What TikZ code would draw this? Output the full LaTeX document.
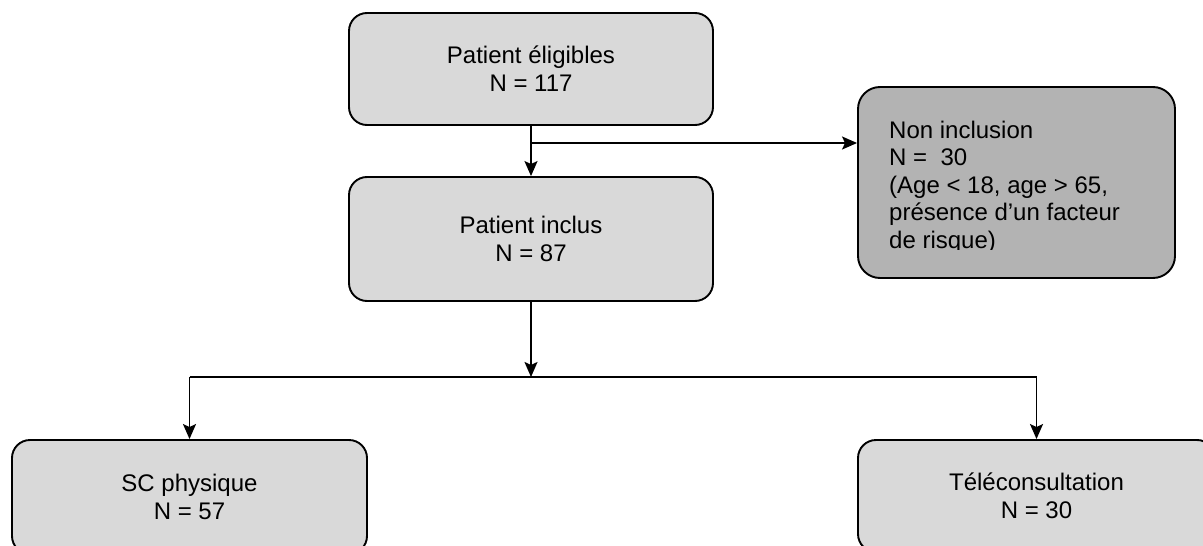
\documentclass[tikz,border=0pt]{standalone}
\usepackage{fontspec}
\setmainfont{Liberation Sans}
\usetikzlibrary{arrows.meta}
\definecolor{lightbox}{HTML}{D9D9D9}
\definecolor{darkbox}{HTML}{B3B3B3}
\begin{document}
\begin{tikzpicture}[x=1pt,y=-1pt,
  font=\fontsize{24}{28}\selectfont,
  box/.style={draw=black, line width=1.9pt, rounded corners=18pt, fill=lightbox, align=center, inner sep=0pt},
  conn/.style={line width=1.9pt, -{Stealth[length=15pt,width=13pt,inset=3pt]}},
  plainline/.style={line width=1.9pt}]
\clip (0,0) rectangle (1203,546);
\fill[white] (0,0) rectangle (1203,546);
% boxes
\node[box, minimum width=364pt, minimum height=112pt] (b1) at (531,69) {Patient éligibles\\N = 117};
\node[box, minimum width=364pt, minimum height=124pt] (b2) at (531,239) {Patient inclus\\N = 87};
\node[box, fill=darkbox, rounded corners=22pt, minimum width=317pt, minimum height=191pt] (b3) at (1016.5,182.5) {};
\begin{scope}
  \clip (858,87) rectangle (1175,249);
  \node[anchor=west, align=left, inner sep=0pt, font=\fontsize{24}{27.5}\selectfont] (t3) at (889,187)
    {Non inclusion\\N = \ 30\\(Age < 18, age > 65,\\présence d’un facteur\\de risque)};
\end{scope}
\node[box, minimum width=355pt, minimum height=114pt] (b4) at (189.5,497) {SC physique\\N = 57};
\node[box, minimum width=357pt, minimum height=112pt] (b5) at (1036.5,496) {Téléconsultation\\N = 30};
% junctions
\coordinate (j1) at (531,143);
\coordinate (j2) at (531,377);
% connectors
\draw[conn] (b1.south) -- (b2.north);
\draw[conn] (j1) -- (j1 -| b3.west);
\draw[conn] (b2.south) -- (j2);
\draw[plainline] (b4.north |- j2) -- (b5.north |- j2);
\draw[conn] (b4.north |- j2) -- (b4.north);
\draw[conn] (b5.north |- j2) -- (b5.north);
\end{tikzpicture}
\end{document}
